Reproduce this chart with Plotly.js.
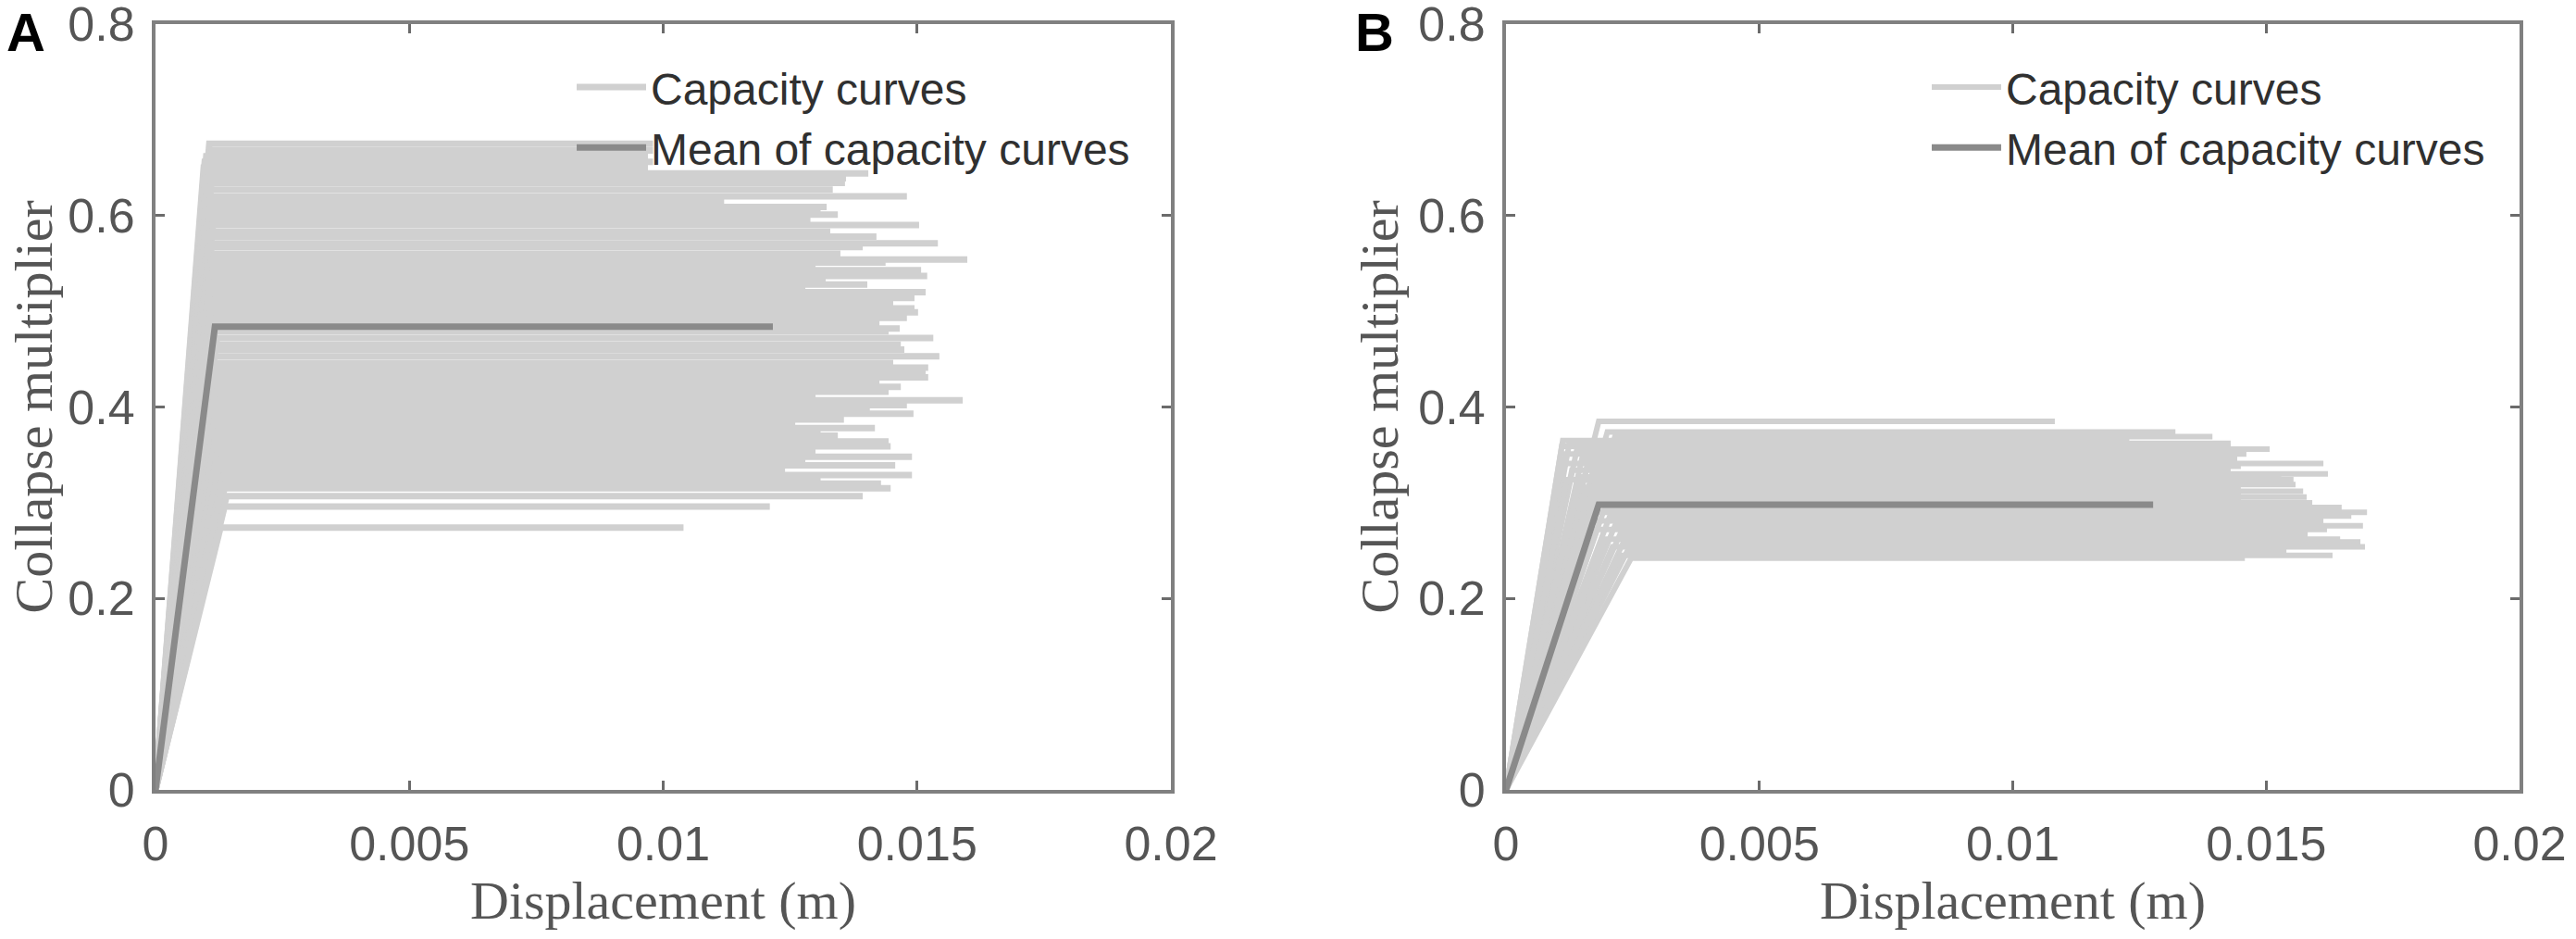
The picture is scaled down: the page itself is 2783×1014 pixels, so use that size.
<!DOCTYPE html>
<html>
<head>
<meta charset="utf-8">
<script src="https://cdn.plot.ly/plotly-3.0.1.min.js"></script>
<style>
  html, body { margin: 0; padding: 0; background: #fff; }
  #capacityPlot { width: 2783px; height: 1014px; }
</style>
</head>
<body>
<div id="capacityPlot"></div>
<script>
// panel A - capacity curves (collapse multiplier at yield,
// yield displacement, ultimate displacement)
var capForceA = [
  0.675, 0.668, 0.662, 0.656, 0.650, 0.644, 0.639, 0.634, 0.627, 0.620,
  0.614, 0.609, 0.605, 0.601, 0.595, 0.590, 0.583, 0.578, 0.571, 0.567,
  0.560, 0.554, 0.551, 0.547, 0.543, 0.537, 0.533, 0.528, 0.524, 0.520,
  0.514, 0.508, 0.503, 0.499, 0.493, 0.487, 0.482, 0.479, 0.472, 0.465,
  0.460, 0.453, 0.446, 0.441, 0.436, 0.431, 0.426, 0.421, 0.416, 0.411,
  0.407, 0.402, 0.397, 0.393, 0.387, 0.382, 0.378, 0.374, 0.370, 0.364,
  0.359, 0.353, 0.348, 0.343, 0.339, 0.334, 0.329, 0.324, 0.320, 0.315,
  0.307, 0.296, 0.274
];
var capYieldDispA = [
  0.00106, 0.00112, 0.00100, 0.00097, 0.00095, 0.00104, 0.00098, 0.00110, 0.00101, 0.00107,
  0.00096, 0.00112, 0.00099, 0.00105, 0.00114, 0.00100, 0.00108, 0.00097, 0.00111, 0.00103,
  0.00116, 0.00099, 0.00109, 0.00102, 0.00113, 0.00105, 0.00118, 0.00100, 0.00110, 0.00106,
  0.00119, 0.00102, 0.00112, 0.00108, 0.00120, 0.00104, 0.00115, 0.00110, 0.00121, 0.00106,
  0.00117, 0.00112, 0.00123, 0.00108, 0.00119, 0.00114, 0.00125, 0.00110, 0.00121, 0.00116,
  0.00127, 0.00113, 0.00122, 0.00118, 0.00128, 0.00115, 0.00124, 0.00120, 0.00130, 0.00117,
  0.00126, 0.00122, 0.00132, 0.00119, 0.00128, 0.00124, 0.00135, 0.00131, 0.00138, 0.00133,
  0.00140, 0.00136, 0.00128
];
var capUltDispA = [
  0.0098, 0.0098, 0.0097, 0.0098, 0.0097, 0.01404, 0.0136, 0.01358, 0.01334, 0.01480,
  0.0112, 0.01322, 0.0131, 0.01344, 0.0129, 0.01504, 0.01329, 0.01420, 0.01541, 0.01393,
  0.01349, 0.01599, 0.01438, 0.0130, 0.01508, 0.01520, 0.0132, 0.01402, 0.0128, 0.01517,
  0.01495, 0.01453, 0.01495, 0.01502, 0.01480, 0.01426, 0.01466, 0.01444, 0.01532, 0.01468,
  0.01475, 0.01544, 0.01453, 0.01522, 0.01517, 0.01522, 0.01426, 0.01468, 0.01444, 0.0130,
  0.01590, 0.01480, 0.01407, 0.01493, 0.01356, 0.0126, 0.01417, 0.0131, 0.01344, 0.01444,
  0.01448, 0.0130, 0.01490, 0.0128, 0.01457, 0.0124, 0.01490, 0.0131, 0.01429, 0.01448,
  0.01393, 0.0121, 0.0104
];
var meanDispA = [0, 0.00117, 0.01216];
var meanForceA = [0, 0.484, 0.484];

// panel B
var capForceB = [
  0.385, 0.374, 0.369, 0.365, 0.362, 0.359, 0.356, 0.351, 0.346, 0.341,
  0.338, 0.334, 0.330, 0.327, 0.324, 0.319, 0.316, 0.312, 0.309, 0.306,
  0.303, 0.300, 0.295, 0.290, 0.286, 0.281, 0.276, 0.272, 0.267, 0.262,
  0.259, 0.254, 0.250, 0.245, 0.242
];
var capYieldDispB = [
  0.00183, 0.00200, 0.00215, 0.00112, 0.00125, 0.00110, 0.00140, 0.00118, 0.00150, 0.00108,
  0.00160, 0.00130, 0.00170, 0.00145, 0.00120, 0.00175, 0.00142, 0.00155, 0.00170, 0.00185,
  0.00160, 0.00135, 0.00195, 0.00165, 0.00205, 0.00150, 0.00215, 0.00180, 0.00225, 0.00195,
  0.00232, 0.00210, 0.00240, 0.00225, 0.00247
];
var capUltDispB = [
  0.01083, 0.01321, 0.01394, 0.0123, 0.0143, 0.0143, 0.01507, 0.01461, 0.01443, 0.01613,
  0.0145, 0.0143, 0.01622, 0.0153, 0.01554, 0.01558, 0.0145, 0.01573, 0.0145, 0.0158,
  0.0145, 0.01591, 0.01649, 0.01699, 0.01668, 0.01613, 0.01691, 0.01620, 0.01582, 0.01646,
  0.01686, 0.01695, 0.0154, 0.01631, 0.01458
];
var meanDispB = [0, 0.00183, 0.01277];
var meanForceB = [0, 0.298, 0.298];

var xTickVals = [0, 0.005, 0.01, 0.015, 0.02];
var xTickText = ["0", "0.005", "0.01", "0.015", "0.02"];
var yTickVals = [0, 0.2, 0.4, 0.6, 0.8];
var yTickText = ["0", "0.2", "0.4", "0.6", "0.8"];

// bilinear curves joined into one trace, separated by nulls
function curvesXY(force, yieldDisp, ultDisp) {
  let x = [];
  let y = [];
  for (let i = 0; i < force.length; i++) {
    x.push(0, yieldDisp[i], ultDisp[i], null);
    y.push(0, force[i], force[i], null);
  }
  return { x: x, y: y };
}

var cb_capacityPlot = function () {
  let cA = curvesXY(capForceA, capYieldDispA, capUltDispA);
  let cB = curvesXY(capForceB, capYieldDispB, capUltDispB);

  let capColor = "rgb(208,208,208)";
  let meanColor = "#8a8a8a";

  let trace1 = {
    x: cA.x, y: cA.y, xaxis: "x", yaxis: "y",
    type: "scatter", mode: "lines", connectgaps: false,
    name: "Capacity curves", legend: "legend", legendgroup: "cA",
    line: { color: capColor, width: 7 },
  };
  let trace2 = {
    x: meanDispA, y: meanForceA, xaxis: "x", yaxis: "y",
    type: "scatter", mode: "lines",
    name: "Mean of capacity curves", legend: "legend", legendgroup: "mA",
    line: { color: meanColor, width: 7 },
  };
  let trace3 = {
    x: cB.x, y: cB.y, xaxis: "x2", yaxis: "y2",
    type: "scatter", mode: "lines", connectgaps: false,
    name: "Capacity curves", legend: "legend2", legendgroup: "cB",
    line: { color: capColor, width: 6 },
  };
  let trace4 = {
    x: meanDispB, y: meanForceB, xaxis: "x2", yaxis: "y2",
    type: "scatter", mode: "lines",
    name: "Mean of capacity curves", legend: "legend2", legendgroup: "mB",
    line: { color: meanColor, width: 7 },
  };

  let data = [trace1, trace2, trace3, trace4];

  let tickFont = { family: "Liberation Sans, Arial, sans-serif", size: 52, color: "#555555" };
  let titleFont = { family: "Liberation Serif, Times New Roman, serif", size: 58, color: "#555555" };
  let legendFont = { family: "Liberation Sans, Arial, sans-serif", size: 48, color: "#303030" };

  let xBase = {
    range: [0, 0.02],
    tickmode: "array", tickvals: xTickVals, ticktext: xTickText,
    showline: true, mirror: "ticks", linecolor: "#808080", linewidth: 4,
    ticks: "inside", ticklen: 10, tickwidth: 3, tickcolor: "#6b6b6b",
    showgrid: false, zeroline: false,
    tickfont: tickFont, ticklabelstandoff: 10, ticklabeloverflow: "allow",
    title: { text: "Displacement (m)", font: titleFont, standoff: 12 },
  };
  let yBase = {
    range: [0, 0.8],
    tickmode: "array", tickvals: yTickVals, ticktext: yTickText,
    showline: true, mirror: "ticks", linecolor: "#808080", linewidth: 4,
    ticks: "inside", ticklen: 10, tickwidth: 3, tickcolor: "#6b6b6b",
    showgrid: false, zeroline: false,
    tickfont: tickFont, ticklabelstandoff: 8,
    ticklabeloverflow: "allow",
  };

  let labelFont = { family: "Liberation Sans, Arial, sans-serif", size: 58, color: "#000000" };

  let layout = {
    width: 2783,
    height: 1014,
    margin: { l: 168, r: 61, t: 26, b: 161, pad: 0 },
    paper_bgcolor: "#ffffff",
    plot_bgcolor: "#ffffff",
    showlegend: true,

    xaxis: Object.assign({}, xBase, { domain: [0, 0.42952], anchor: "y" }),
    yaxis: Object.assign({}, yBase, { domain: [0, 1], anchor: "x" }),
    xaxis2: Object.assign({}, xBase, { domain: [0.57126, 1], anchor: "y2" }),
    yaxis2: Object.assign({}, yBase, { domain: [0, 1], anchor: "x2" }),

    // Legende
    legend: {
      x: 0.1762, xanchor: "left", y: 0.9635, yanchor: "top",
      bgcolor: "rgba(0,0,0,0)", font: legendFont,
      itemwidth: 75, tracegroupgap: 0,
    },
    legend2: {
      x: 0.7494, xanchor: "left", y: 0.9635, yanchor: "top",
      bgcolor: "rgba(0,0,0,0)", font: legendFont,
      itemwidth: 75, tracegroupgap: 0,
    },

    annotations: [
      {
        text: "<b>A</b>", xref: "paper", yref: "paper",
        x: -0.0638, xanchor: "left", y: 1.0314, yanchor: "top",
        showarrow: false, font: labelFont,
      },
      {
        text: "<b>B</b>", xref: "paper", yref: "paper",
        x: 0.5067, xanchor: "left", y: 1.0314, yanchor: "top",
        showarrow: false, font: labelFont,
      },
      // y axis titles
      {
        text: "Collapse multiplier", xref: "paper", yref: "paper",
        x: -0.05168, xanchor: "center", y: 0.5, yanchor: "middle",
        textangle: -90, showarrow: false, font: titleFont,
      },
      {
        text: "Collapse multiplier", xref: "paper", yref: "paper",
        x: 0.51762, xanchor: "center", y: 0.5, yanchor: "middle",
        textangle: -90, showarrow: false, font: titleFont,
      },
    ],
  };
  // end layout

  let config = { responsive: false, displayModeBar: false, staticPlot: true };

  Plotly.newPlot("capacityPlot", data, layout, config);
};

if (document.readyState === "complete" || document.readyState !== "loading") {
  cb_capacityPlot();
} else {
  document.addEventListener("DOMContentLoaded", cb_capacityPlot);
}
</script>
</body>
</html>
